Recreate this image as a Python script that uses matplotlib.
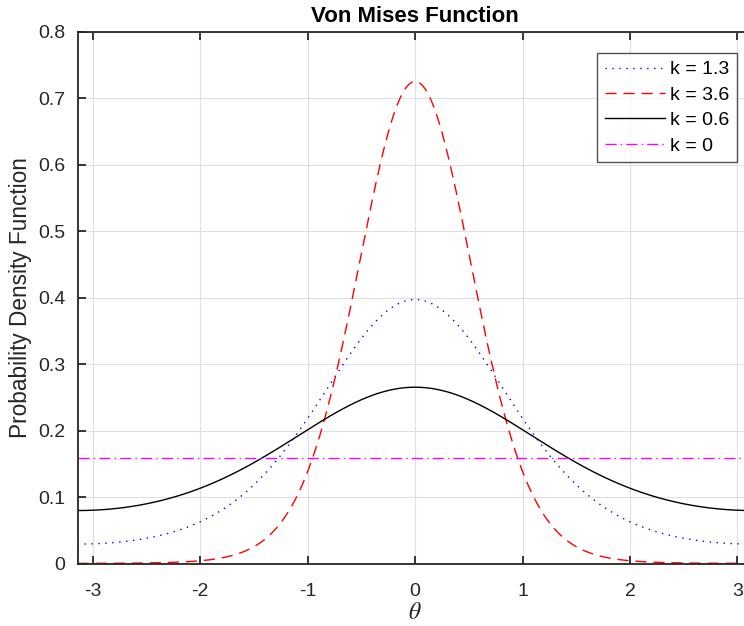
import numpy as np
import matplotlib
matplotlib.use("Agg")
import matplotlib.pyplot as plt

plt.rcParams['font.family'] = ['Liberation Sans', 'DejaVu Sans']
plt.rcParams['mathtext.fontset'] = 'stix'

# concentration parameters and legend text
kappas = [1.3, 3.6, 0.6, 0]
labels = ['k = 1.3', 'k = 3.6', 'k = 0.6', 'k = 0']
colors = ['#0000ff', '#ff0000', '#000000', '#ff00ff']
styles = [(0, (1, 4)), (0, (8, 5)), '-', (0, (8, 3, 1, 3))]

xticks = [-3, -2, -1, 0, 1, 2, 3]
yticks = [0, 0.1, 0.2, 0.3, 0.4, 0.5, 0.6, 0.7, 0.8]
ytick_labels = ['0', '0.1', '0.2', '0.3', '0.4', '0.5', '0.6', '0.7', '0.8']

theta = np.linspace(-np.pi, np.pi, 600)
mu = 0.0


def von_mises_pdf(x, k):
    return np.exp(k * np.cos(x - mu)) / (2 * np.pi * np.i0(k))


fig = plt.figure(figsize=(7.44, 6.26), dpi=100)
ax = fig.add_axes([0.1042, 0.0995, 0.9075, 0.8494])

for k, lab, c, ls in zip(kappas, labels, colors, styles):
    ax.plot(theta, von_mises_pdf(theta, k), color=c, linestyle=ls,
            linewidth=1.0, label=lab)

ax.set_xlim(-np.pi, np.pi)
ax.set_ylim(0, 0.8)
ax.set_xticks(xticks)
ax.set_xticklabels([str(t) for t in xticks])
ax.set_yticks(yticks)
ax.set_yticklabels(ytick_labels)

ax.grid(True, color='#e0e0e0', linewidth=0.8)
ax.set_axisbelow(True)
for sp in ax.spines.values():
    sp.set_color('#262626')
    sp.set_linewidth(1.3)
ax.tick_params(direction='in', length=6, width=1.3, colors='#262626',
               labelsize=14, top=True, right=True)
ax.tick_params(axis='x', pad=14)
ax.tick_params(axis='y', pad=9)

ax.set_title('Von Mises Function', fontsize=16, fontweight='bold', pad=7)
ax.set_xlabel(r'$\theta$', fontsize=17, color='#262626', labelpad=1)
ax.set_ylabel('Probability Density Function', fontsize=16.3,
              color='#262626', labelpad=4)

leg = ax.legend(loc='upper left', bbox_to_anchor=(0.7695, 0.9605),
                fontsize=14, frameon=True, fancybox=False,
                handlelength=3.1, handletextpad=0.25, borderpad=0.4,
                labelspacing=0.4, borderaxespad=0)
leg.get_frame().set_edgecolor('#262626')
leg.get_frame().set_linewidth(1.0)

fig.savefig('out.png', dpi=100)
